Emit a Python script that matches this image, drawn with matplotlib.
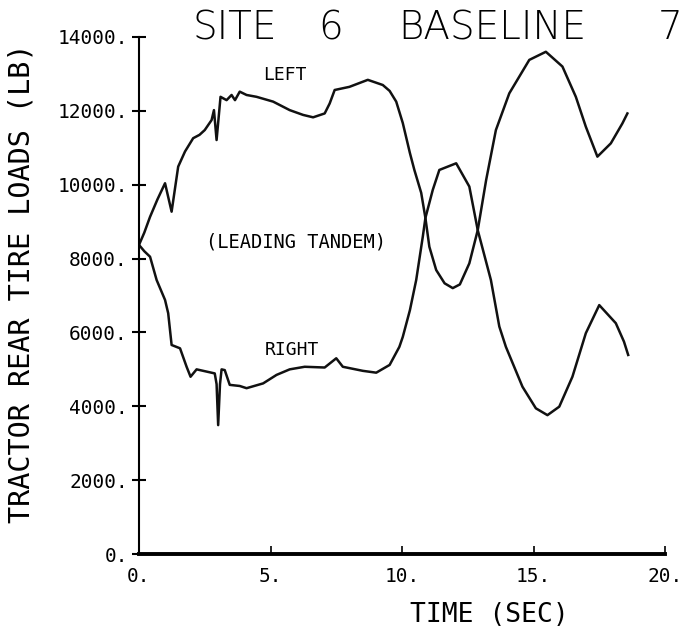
import matplotlib
matplotlib.use("Agg")
import matplotlib.pyplot as plt

# ---- data ----
left_t = [0, 0.2, 0.42, 0.7, 0.99, 1.1, 1.24, 1.49, 1.75, 2.06, 2.3, 2.5, 2.76, 2.85,
          2.95, 3.1, 3.33, 3.52, 3.65, 3.83, 4.09, 4.47, 5.1, 5.73, 6.24, 6.62, 7.06,
          7.25, 7.44, 8.0, 8.7, 9.27, 9.53, 9.78, 10.03, 10.3, 10.47, 10.73, 10.89,
          11.04, 11.3, 11.62, 11.93, 12.2, 12.56, 12.88, 13.2, 13.57, 14.08, 14.84,
          15.47, 16.1, 16.61, 16.99, 17.43, 17.94, 18.38, 18.57]
left_v = [8370, 8700, 9130, 9600, 10040, 9700, 9270, 10490, 10900, 11260, 11350, 11480,
          11750, 12020, 11210, 12380, 12290, 12430, 12290, 12520, 12430, 12380, 12250,
          12020, 11890, 11825, 11930, 12200, 12565, 12650, 12840, 12700, 12540, 12250,
          11670, 10860, 10400, 9780, 9100, 8320, 7690, 7330, 7200, 7300, 7870, 8770,
          10130, 11480, 12475, 13380, 13600, 13200, 12380, 11570, 10760, 11120, 11660,
          11930]

right_t = [0, 0.2, 0.42, 0.67, 0.99, 1.11, 1.24, 1.56, 1.81, 1.96, 2.19, 2.88, 2.95,
           3.01, 3.08, 3.14, 3.26, 3.45, 3.83, 4.09, 4.72, 5.23, 5.73, 6.3, 7.06, 7.5,
           7.75, 8.51, 9.02, 9.53, 9.9, 10.03, 10.3, 10.54, 10.79, 10.89, 11.17, 11.42,
           12.06, 12.56, 12.88, 13.38, 13.7, 13.95, 14.58, 15.09, 15.53, 15.98, 16.48,
           16.99, 17.5, 18.13, 18.44, 18.6]
right_v = [8370, 8200, 8050, 7420, 6880, 6520, 5660, 5570, 5070, 4800, 5000, 4890, 4600,
           3490, 4600, 5000, 4980, 4580, 4550, 4490, 4620, 4850, 5000, 5070, 5050, 5300,
           5070, 4960, 4910, 5120, 5610, 5880, 6600, 7420, 8590, 9100, 9860, 10400,
           10580, 9950, 8770, 7420, 6160, 5610, 4530, 3945, 3760, 3990, 4800, 5980,
           6740, 6250, 5750, 5390]

x_ticks = [0, 5, 10, 15, 20]
x_tick_labels = ["0.", "5.", "10.", "15.", "20."]
y_ticks = [0, 2000, 4000, 6000, 8000, 10000, 12000, 14000]
y_tick_labels = ["0.", "2000.", "4000.", "6000.", "8000.", "10000.", "12000.", "14000."]

mono = "DejaVu Sans Mono"

fig = plt.figure(figsize=(6.86, 6.29), dpi=100)
ax = fig.add_axes([139/686, 1-554/629, (665-139)/686, (554-37)/629])

ax.plot(left_t, left_v, color="#111111", lw=1.8, solid_joinstyle="round")
ax.plot(right_t, right_v, color="#111111", lw=1.8, solid_joinstyle="round")

ax.set_xlim(0, 20)
ax.set_ylim(0, 14000)
for s in ("top", "right"):
    ax.spines[s].set_visible(False)
ax.spines["left"].set_linewidth(1.5)
ax.spines["bottom"].set_linewidth(2.8)

ax.set_xticks(x_ticks)
ax.set_xticklabels(x_tick_labels, fontfamily=mono, fontsize=14)
ax.set_yticks(y_ticks)
ax.set_yticklabels(y_tick_labels, fontfamily=mono, fontsize=14)
ax.tick_params(axis="x", direction="in", length=6, width=1.2, pad=9)
ax.tick_params(axis="y", direction="inout", length=10, width=1.5, pad=3)

ax.text(5.54, 12970, "LEFT", fontfamily=mono, fontsize=13, ha="center", va="center")
ax.text(5.96, 8450, "(LEADING TANDEM)", fontfamily=mono, fontsize=13.5, ha="center", va="center")
ax.text(5.83, 5525, "RIGHT", fontfamily=mono, fontsize=13, ha="center", va="center")

fig.text(489/686, 1-615/629, "TIME (SEC)", fontfamily=mono, fontsize=19,
         ha="center", va="center")
fig.text(22/686, 1-283/629, "TRACTOR REAR TIRE LOADS (LB)", fontfamily=mono,
         fontsize=20.5, rotation=90, ha="center", va="center")

title_kw = dict(fontfamily="DejaVu Sans", fontsize=28, fontweight="light",
                ha="center", va="center")
fig.text(235/686, 1-28/629, "SITE", **title_kw)
fig.text(331/686, 1-28/629, "6", **title_kw)
fig.text(492/686, 1-28/629, "BASELINE", **title_kw)
fig.text(670/686, 1-28/629, "7", **title_kw)

fig.savefig("out.png", dpi=100)
